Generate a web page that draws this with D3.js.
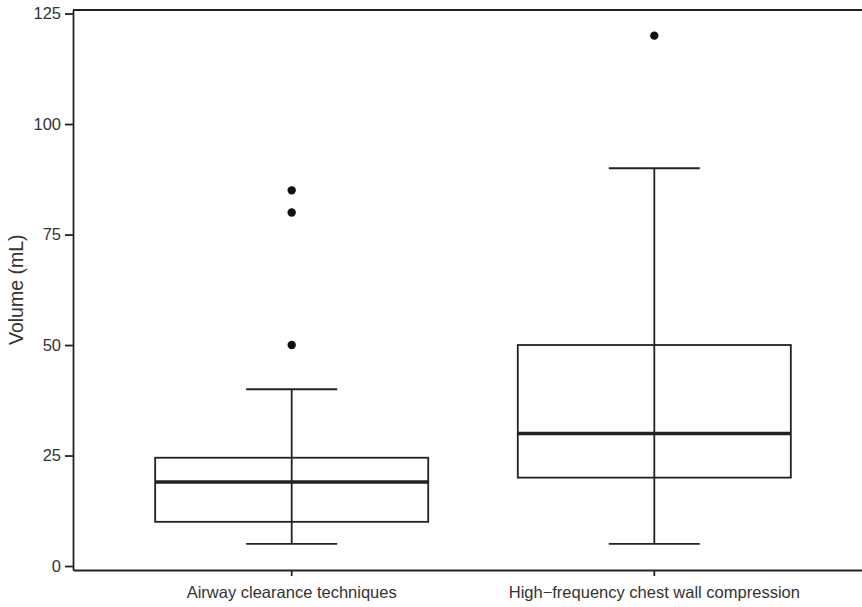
<!DOCTYPE html>
<html>
<head>
<meta charset="utf-8">
<script src="https://cdn.jsdelivr.net/npm/d3@7"></script>
<style>
  html, body { margin: 0; padding: 0; background: #fff; }
  svg { display: block; font-family: "Liberation Sans", Arial, sans-serif; }
</style>
</head>
<body>
<div id="chart"></div>
<script>
const width = 862;
const height = 607;
const margin = { top: 10, right: -11, bottom: 37, left: 73 };

// data
const categories = ["Airway clearance techniques", "High\u2212frequency chest wall compression"];
const whiskerLow = [5, 5];
const q1 = [10, 20];
const median = [19, 30];
const q3 = [24.5, 50];
const whiskerHigh = [40, 90];
const outliers = [[50, 80, 85], [120]];
const yTicks = [0, 25, 50, 75, 100, 125];

const ink = "#222";
const textCol = "#333";
const lw = 1.8;

const svg = d3.select("#chart")
  .append("svg")
  .attr("width", width)
  .attr("height", height);

// x: one band per group
const x = d3.scaleBand()
  .domain(categories)
  .range([margin.left, width - margin.right])
  .paddingInner(0.247)
  .paddingOuter(0.2266);

const y = d3.scaleLinear()
  .domain([-0.9, 125.8])
  .range([height - margin.bottom, margin.top]);

const cx = (c) => x(c) + x.bandwidth() / 2;
const capW = x.bandwidth() / 3;

const boxes = categories.map((c, i) => ({
  cat: c, lo: whiskerLow[i], q1: q1[i], med: median[i], q3: q3[i], hi: whiskerHigh[i], out: outliers[i]
}));

const g = svg.append("g");

// whiskers
g.selectAll(".whisker")
  .data(boxes)
  .enter()
  .append("line")
  .attr("x1", (d) => cx(d.cat))
  .attr("x2", (d) => cx(d.cat))
  .attr("y1", (d) => y(d.lo))
  .attr("y2", (d) => y(d.hi))
  .attr("stroke", ink)
  .attr("stroke-width", lw);

// caps
["lo", "hi"].forEach((k) => {
  g.selectAll(".cap-" + k)
    .data(boxes)
    .enter()
    .append("line")
    .attr("x1", (d) => cx(d.cat) - capW / 2)
    .attr("x2", (d) => cx(d.cat) + capW / 2)
    .attr("y1", (d) => y(d[k]))
    .attr("y2", (d) => y(d[k]))
    .attr("stroke", ink)
    .attr("stroke-width", lw);
});

// boxes
g.selectAll(".box")
  .data(boxes)
  .enter()
  .append("rect")
  .attr("x", (d) => x(d.cat))
  .attr("width", x.bandwidth())
  .attr("y", (d) => y(d.q3))
  .attr("height", (d) => y(d.q1) - y(d.q3))
  .attr("fill", "none")
  .attr("stroke", ink)
  .attr("stroke-width", lw);

// medians
g.selectAll(".median")
  .data(boxes)
  .enter()
  .append("line")
  .attr("x1", (d) => x(d.cat))
  .attr("x2", (d) => x(d.cat) + x.bandwidth())
  .attr("y1", (d) => y(d.med))
  .attr("y2", (d) => y(d.med))
  .attr("stroke", ink)
  .attr("stroke-width", 3.6);

// outliers
const outPts = boxes.flatMap((d) => d.out.map((v) => ({ cat: d.cat, v: v })));
g.selectAll(".outlier")
  .data(outPts)
  .enter()
  .append("circle")
  .attr("cx", (d) => cx(d.cat))
  .attr("cy", (d) => y(d.v))
  .attr("r", 4.2)
  .attr("fill", "#111");

// y axis
const yAxis = svg.append("g")
  .attr("transform", "translate(" + margin.left + ",0)")
  .call(d3.axisLeft(y).tickValues(yTicks).tickSize(8).tickPadding(4).tickSizeOuter(0));
yAxis.select(".domain").attr("stroke", ink).attr("stroke-width", lw);
yAxis.selectAll(".tick line").attr("stroke", ink).attr("stroke-width", lw);
yAxis.selectAll(".tick text").attr("fill", textCol).style("font-size", "16.5px");

// x axis
const xAxis = svg.append("g")
  .attr("transform", "translate(0," + (height - margin.bottom) + ")")
  .call(d3.axisBottom(x).tickSize(6).tickPadding(10).tickSizeOuter(0));
xAxis.select(".domain").attr("stroke", ink).attr("stroke-width", lw);
xAxis.selectAll(".tick line").attr("stroke", ink).attr("stroke-width", lw);
xAxis.selectAll(".tick text").attr("fill", textCol).style("font-size", "16.5px");

// top frame line
svg.append("line")
  .attr("x1", margin.left)
  .attr("x2", width)
  .attr("y1", margin.top)
  .attr("y2", margin.top)
  .attr("stroke", ink)
  .attr("stroke-width", lw);

// y title
svg.append("text")
  .attr("transform", "translate(23," + (y(62.5)) + ") rotate(-90)")
  .attr("text-anchor", "middle")
  .attr("fill", textCol)
  .style("font-size", "19.5px")
  .text("Volume (mL)");
</script>
</body>
</html>
